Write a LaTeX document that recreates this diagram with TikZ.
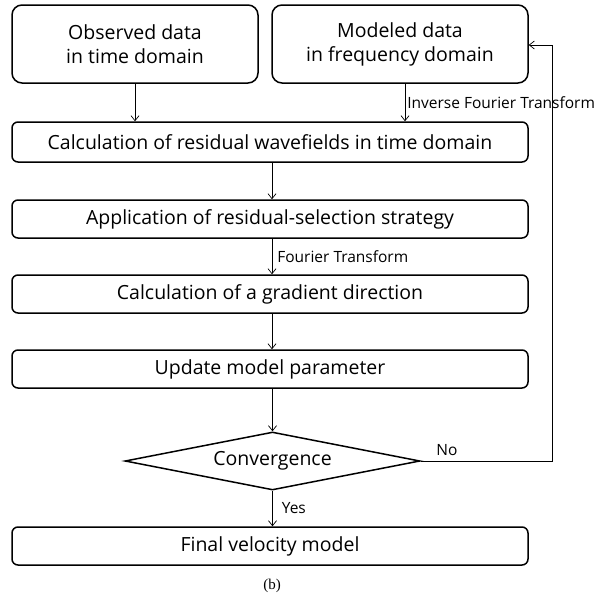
\documentclass[tikz,border=0pt]{standalone}
\usepackage{fontspec}
\setmainfont{Open Sans}
\newfontfamily\capfont{Liberation Serif}
\usetikzlibrary{arrows.meta,shapes.geometric}
\begin{document}
\begin{tikzpicture}[x=1pt,y=-1pt,
  box/.style={draw,line width=1.5pt,rounded corners=6pt,inner sep=0pt},
  bigbox/.style={draw,line width=1.5pt,rounded corners=10pt,inner sep=0pt,align=center},
  txt/.style={font=\fontsize{19.5}{24}\selectfont},
  lab/.style={font=\fontsize{15.5}{18}\selectfont,inner sep=0pt},
  conn/.style={line width=0.7pt,-{Straight Barb[length=5pt,width=8pt]}}]
\useasboundingbox (0,0) rectangle (610,605);
\node[bigbox,minimum width=246pt,minimum height=78pt,txt] (obs) at (135,44) {Observed data\\in time domain};
\node[bigbox,minimum width=256pt,minimum height=78pt,txt] (mod) at (400,44) {Modeled data\\in frequency domain};
\node[box,minimum width=516pt,minimum height=40pt,txt] (res) at (270,142) {Calculation of residual wavefields in time domain};
\node[box,minimum width=516pt,minimum height=38pt,txt] (app) at (270,219) {Application of residual-selection strategy};
\node[box,minimum width=516pt,minimum height=38pt,txt] (grad) at (270,294) {Calculation of a gradient direction};
\node[box,minimum width=516pt,minimum height=38pt,txt] (upd) at (270,369) {Update model parameter};
\node[draw,line width=1.5pt,diamond,aspect=5.1,inner sep=0pt,minimum width=295pt,minimum height=58pt,txt] (conv) at (272.5,461) {Convergence};
\node[box,minimum width=516pt,minimum height=38pt,txt] (fin) at (270,546) {Final velocity model};
\node[font=\capfont\fontsize{15}{18}\selectfont] (b) at (272,586) {(b)};
\coordinate (c1) at (552,461);
\coordinate (c2) at (552,45);
\draw[conn] (obs.south -| 135,0) -- (res.north -| 135,0);
\draw[conn] (mod.south -| 405,0) -- node[lab,right=2pt] (ift) {Inverse Fourier Transform} (res.north -| 405,0);
\draw[conn] (res.south -| 272,0) -- (app.north -| 272,0);
\draw[conn] (app.south -| 272,0) -- node[lab,right=5pt,pos=0.5] (ft) {Fourier Transform} (grad.north -| 272,0);
\draw[conn] (grad.south -| 272,0) -- (upd.north -| 272,0);
\draw[conn] (upd.south -| 272.5,0) -- (conv.north);
\draw[conn] (conv.south) -- node[lab,right=9pt,pos=0.5] (yes) {Yes} (fin.north -| 272.5,0);
\draw[conn] (conv.east) -- node[lab,above=5pt,pos=0.2] (no) {No} (c1) -- (c2) -- (mod.east |- c2);
\end{tikzpicture}
\end{document}
